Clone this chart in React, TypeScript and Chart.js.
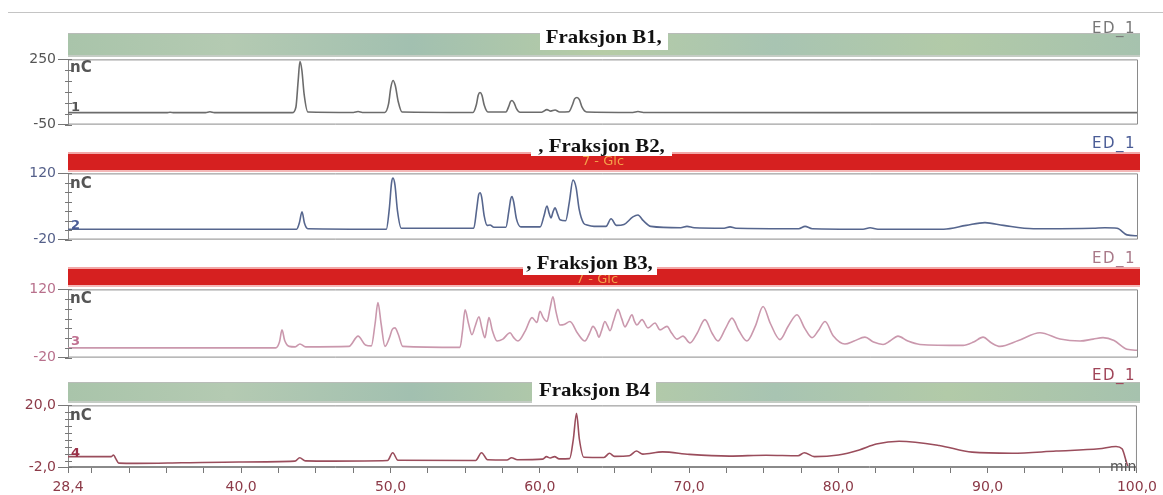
import React, { useEffect, useRef } from 'react';
import { Chart, registerables } from 'chart.js';
Chart.register(...registerables);

// ---------- data ----------
const xMin = 28.4;
const xMax = 100;
const xMajorTicks = [28.4, 40, 50, 60, 70, 80, 90, 100];
const xMajorLabels = ['28,4', '40,0', '50,0', '60,0', '70,0', '80,0', '90,0', '100,0'];
const xMinorTicks = [30, 32.5, 35, 37.5, 42.5, 45, 47.5, 52.5, 55, 57.5, 62.5, 65, 67.5, 72.5, 75, 77.5, 82.5, 85, 87.5, 92.5, 95, 97.5];

const titles = ['Fraksjon B1,', ', Fraksjon B2,', ', Fraksjon B3,', 'Fraksjon B4'];
const channelLabel = 'ED_1';
const unitLabel = 'nC';
const traceIds = ['1', '2', '3', '4'];
const glcLabel = '7 - Glc';
const timeUnit = 'min';

const b1YTicks = [-50, 250];
const b1YLabels = ['-50', '250'];
const b1YMinor = [-50, 0, 50, 100, 150, 200, 250];
const b2YTicks = [-20, 120];
const b2YLabels = ['-20', '120'];
const b2YMinor = [-20, 0, 20, 40, 60, 80, 100, 120];
const b3YTicks = [-20, 120];
const b3YLabels = ['-20', '120'];
const b3YMinor = [-20, 0, 20, 40, 60, 80, 100, 120];
const b4YTicks = [-2, 20];
const b4YLabels = ['-2,0', '20,0'];
const b4YMinor = [-2, 0, 2.5, 5, 7.5, 10, 12.5, 15, 17.5, 20];

const b1Trace: [number, number][] = [
  [28.4, 5], [35.0, 5], [35.23, 7], [35.5, 5], [37.6, 5], [37.9, 9], [38.2, 5],
  [43.4, 5], [43.65, 30], [43.8, 150], [43.92, 240], [44.05, 200], [44.2, 90], [44.45, 8],
  [47.5, 6], [47.81, 10], [48.1, 6],
  [49.6, 6], [49.85, 45], [50.0, 120], [50.15, 153], [50.3, 130], [50.5, 55], [50.75, 8],
  [55.5, 6], [55.72, 40], [55.85, 85], [55.97, 98], [56.1, 85], [56.25, 40], [56.5, 8],
  [57.7, 8], [57.9, 35], [58.0, 55], [58.11, 61], [58.25, 50], [58.4, 25], [58.65, 7],
  [60.1, 7], [60.45, 19], [60.7, 12], [60.99, 17], [61.3, 8], [61.9, 9],
  [62.15, 40], [62.3, 68], [62.46, 75], [62.62, 65], [62.8, 30], [63.1, 8],
  [66.2, 6], [66.54, 10], [66.9, 6], [80, 5], [100, 5],
];

const b2Trace: [number, number][] = [
  [28.4, 2], [43.7, 2], [43.88, 15], [44.06, 39], [44.22, 15], [44.45, 3],
  [49.7, 2], [49.9, 45], [50.05, 100], [50.15, 110], [50.28, 95], [50.45, 40], [50.7, 4],
  [55.55, 4], [55.75, 45], [55.88, 75], [55.97, 79], [56.08, 70], [56.25, 30], [56.45, 10], [56.64, 11], [56.9, 6],
  [57.7, 6], [57.9, 40], [58.02, 65], [58.11, 71], [58.22, 60], [58.4, 25], [58.7, 7],
  [60.0, 7], [60.25, 30], [60.45, 51], [60.6, 35], [60.72, 26], [60.85, 38], [60.99, 47], [61.15, 35], [61.32, 22],
  [61.7, 20], [61.95, 60], [62.19, 106], [62.4, 90], [62.6, 45], [62.9, 15], [63.13, 11], [63.6, 8],
  [64.4, 8], [64.74, 24], [65.1, 10], [65.6, 12], [66.2, 28], [66.54, 32], [66.9, 20], [67.4, 8],
  [69.4, 5], [69.82, 8], [70.3, 5], [72.3, 4], [72.7, 7], [73.1, 4], [77.3, 3], [77.72, 8], [78.2, 3],
  [81.6, 2], [82.07, 5], [82.6, 2], [87.0, 2], [88.5, 10], [89.76, 16], [91.0, 10], [93.0, 3],
  [97.0, 4], [97.79, 5], [98.6, 4], [99.26, -10], [100, -12],
];

const b3Trace: [number, number][] = [
  [28.4, 0], [42.3, 0], [42.55, 12], [42.72, 37], [42.9, 15], [43.2, 3], [43.6, 2], [43.92, 8], [44.3, 2],
  [47.2, 3], [47.81, 24], [48.3, 6], [48.7, 4], [48.95, 50], [49.14, 93], [49.35, 50], [49.61, 3],
  [49.9, 20], [50.1, 38], [50.28, 41], [50.5, 28], [50.8, 3], [54.63, 1],
  [54.8, 35], [54.97, 78], [55.2, 50], [55.43, 27], [55.65, 45], [55.9, 64], [56.1, 40], [56.3, 21],
  [56.45, 45], [56.57, 62], [56.8, 35], [57.11, 14], [57.5, 18], [57.98, 31], [58.2, 22], [58.51, 14],
  [59.0, 35], [59.45, 62], [59.78, 52], [59.98, 75], [60.2, 62], [60.45, 54], [60.65, 80], [60.85, 105],
  [61.05, 75], [61.32, 47], [61.6, 48], [61.99, 54], [62.5, 30], [62.99, 14], [63.3, 30], [63.53, 44],
  [63.75, 35], [63.93, 22], [64.1, 35], [64.33, 54], [64.5, 45], [64.67, 35], [64.9, 55], [65.2, 79],
  [65.45, 60], [65.67, 43], [65.9, 55], [66.14, 68], [66.3, 55], [66.47, 47], [66.81, 58], [67.21, 41],
  [67.68, 51], [68.01, 37], [68.48, 44], [68.8, 30], [69.15, 18], [69.55, 24], [70.02, 10],
  [70.5, 30], [71.02, 58], [71.5, 30], [71.89, 14], [72.4, 40], [72.83, 61], [73.3, 35], [73.83, 14],
  [74.4, 45], [74.91, 85], [75.4, 50], [76.04, 17], [76.6, 45], [77.18, 68], [77.7, 40], [78.19, 21],
  [78.6, 35], [79.06, 54], [79.6, 25], [80.39, 8], [81.0, 14], [81.73, 22], [82.3, 12], [82.94, 7],
  [83.4, 14], [83.94, 24], [84.6, 14], [85.41, 7], [88.29, 5], [89.0, 12], [89.63, 22], [90.2, 10],
  [90.77, 3], [92.0, 15], [93.44, 31], [94.78, 18], [96.12, 14], [97.0, 18], [97.66, 21], [98.4, 15],
  [99.26, -3], [100, -5],
];

const b4Trace: [number, number][] = [
  [28.4, 1.7], [31.3, 1.7], [31.45, 2.3], [31.6, 1.0], [31.8, -0.6], [33, -0.7], [36, -0.5], [39.84, -0.2],
  [43.6, 0.1], [43.92, 1.3], [44.3, 0.2], [46.13, 0.1], [49.8, 0.3], [50.15, 3.1], [50.5, 0.4],
  [55.7, 0.3], [56.1, 3.1], [56.5, 0.6], [57.8, 0.5], [58.11, 1.3], [58.5, 0.6],
  [60.2, 0.8], [60.45, 1.7], [60.7, 1.2], [60.99, 1.7], [61.3, 0.9], [62.0, 1.0],
  [62.25, 8], [62.46, 17.2], [62.65, 8], [62.95, 1.5], [64.3, 1.4], [64.67, 2.9], [65.0, 1.8],
  [66.0, 2.0], [66.47, 3.7], [66.9, 2.6], [68.22, 3.4], [70.02, 2.5], [72.7, 1.9], [75.17, 2.2],
  [77.3, 2.0], [77.72, 3.1], [78.39, 1.7], [80, 2.3], [81.4, 4.1], [82.54, 6.2], [84.07, 7.2],
  [86.75, 5.7], [88.96, 3.3], [91.64, 2.9], [94.58, 3.7], [97.46, 4.5], [98.6, 5.3], [99.0, 4.5],
  [99.46, -2.0], [100, -2.0],
];

// ---------- layout / style ----------
const W = 1163;
const H = 495;
const PLOT_LEFT = 68;
const PLOT_RIGHT = 1138;
const AXIS_FONT = { family: '"DejaVu Sans", sans-serif', size: 14 };

type PanelCfg = {
  trace: [number, number][];
  line: string;
  labelColor: string;
  edColor: string;
  yTicks: number[];
  yLabels: string[];
  yMinor: number[];
  top: number;
  bottom: number;
  barTop: number;
  barBottom: number;
  green: boolean;
  title: string;
  titleBox: [number, number, number, number];
  edY: number;
  nCY: number;
  id: string;
  idY: number;
  idColor: string;
  last: boolean;
  glc?: [number, number];
};

const panels: PanelCfg[] = [
  {
    trace: b1Trace, line: '#6c6c6c', labelColor: '#555', edColor: '#777',
    yTicks: b1YTicks, yLabels: b1YLabels, yMinor: b1YMinor,
    top: 59, bottom: 125, barTop: 33, barBottom: 57, green: true,
    title: titles[0], titleBox: [540, 23, 128, 27], edY: 28, nCY: 67, id: traceIds[0], idY: 107, idColor: '#555', last: false,
  },
  {
    trace: b2Trace, line: '#56668e', labelColor: '#55608a', edColor: '#4a5c96',
    yTicks: b2YTicks, yLabels: b2YLabels, yMinor: b2YMinor,
    top: 173, bottom: 240, barTop: 152, barBottom: 172, green: false,
    title: titles[1], titleBox: [531, 136, 141, 20], edY: 143, nCY: 183, id: traceIds[1], idY: 225, idColor: '#4a5c96', last: false,
    glc: [603, 161],
  },
  {
    trace: b3Trace, line: '#ca98ad', labelColor: '#b8708c', edColor: '#a87888',
    yTicks: b3YTicks, yLabels: b3YLabels, yMinor: b3YMinor,
    top: 289, bottom: 358, barTop: 267, barBottom: 287, green: false,
    title: titles[2], titleBox: [523, 251, 134, 24], edY: 258, nCY: 298, id: traceIds[2], idY: 341, idColor: '#c07090', last: false,
    glc: [597, 279],
  },
  {
    trace: b4Trace, line: '#9a4d5c', labelColor: '#8c3a48', edColor: '#a04458',
    yTicks: b4YTicks, yLabels: b4YLabels, yMinor: b4YMinor,
    top: 405, bottom: 467, barTop: 382, barBottom: 403, green: true,
    title: titles[3], titleBox: [532, 376, 124, 28], edY: 375, nCY: 415, id: traceIds[3], idY: 453, idColor: '#9a3048', last: true,
  },
];

const framePlugin = {
  id: 'frame',
  afterDraw(chart: any, _args: any, opts: any) {
    const { ctx, chartArea: a } = chart;
    const ys = chart.scales.y;
    ctx.save();
    ctx.strokeStyle = opts.color;
    ctx.lineWidth = 1;
    ctx.beginPath();
    ctx.moveTo(a.left, a.top + 0.5);
    ctx.lineTo(a.right - 0.5, a.top + 0.5);
    ctx.lineTo(a.right - 0.5, a.bottom - 0.5);
    ctx.lineTo(a.left, a.bottom - 0.5);
    ctx.stroke();
    ctx.strokeStyle = opts.tickColor;
    for (const v of opts.minor as number[]) {
      const y = Math.round(ys.getPixelForValue(v)) + 0.5;
      ctx.beginPath();
      ctx.moveTo(a.left - 3, y);
      ctx.lineTo(a.left + 4, y);
      ctx.stroke();
    }
    ctx.restore();
  },
};

function PanelChart({ p }: { p: PanelCfg }) {
  const ref = useRef<HTMLCanvasElement>(null);
  const canvasTop = p.top - 10;
  const xAxisH = 30;
  const height = p.last ? p.bottom - canvasTop + xAxisH : p.bottom - p.top + 20;

  useEffect(() => {
    const xScale: any = {
      type: 'linear',
      min: xMin,
      max: xMax,
      display: p.last,
      grid: { drawOnChartArea: false, drawTicks: true, tickLength: 6, color: '#777' },
      border: { display: true, color: '#8a8a8a' },
      ticks: {
        autoSkip: false,
        maxRotation: 0,
        padding: 6,
        color: p.labelColor,
        font: AXIS_FONT,
        callback: (value: any) => {
          const i = xMajorTicks.findIndex((t) => Math.abs(t - Number(value)) < 1e-6);
          return i >= 0 ? xMajorLabels[i] : '';
        },
      },
    };
    if (p.last) {
      xScale.afterBuildTicks = (scale: any) => {
        scale.ticks = [...xMajorTicks, ...xMinorTicks].sort((a, b) => a - b).map((v) => ({ value: v }));
      };
      xScale.afterFit = (scale: any) => {
        scale.height = xAxisH;
      };
    }
    const chart = new Chart(ref.current as HTMLCanvasElement, {
      type: 'line',
      data: {
        datasets: [
          {
            data: p.trace.map(([x, y]) => ({ x, y })),
            borderColor: p.line,
            borderWidth: 1.6,
            pointRadius: 0,
            fill: false,
            cubicInterpolationMode: 'monotone',
          },
        ],
      },
      options: {
        animation: false,
        responsive: false,
        maintainAspectRatio: false,
        devicePixelRatio: 1,
        events: [],
        layout: { padding: { top: 10, left: 8, right: W - PLOT_RIGHT, bottom: p.last ? 0 : 10 } },
        plugins: {
          legend: { display: false },
          tooltip: { enabled: false },
          title: { display: false },
          frame: { color: '#8a8a8a', tickColor: '#777', minor: p.yMinor },
        } as any,
        scales: {
          x: xScale,
          y: {
            type: 'linear',
            min: p.yTicks[0],
            max: p.yTicks[1],
            afterBuildTicks: (scale: any) => {
              scale.ticks = p.yTicks.map((v) => ({ value: v }));
            },
            afterFit: (scale: any) => {
              scale.width = PLOT_LEFT - 8;
            },
            grid: { drawOnChartArea: false, drawTicks: true, tickLength: 10, color: '#777' },
            border: { display: true, color: '#8a8a8a' },
            ticks: {
              padding: 2,
              color: p.labelColor,
              font: AXIS_FONT,
              callback: (value: any) => {
                const i = p.yTicks.findIndex((t) => Math.abs(t - Number(value)) < 1e-6);
                return i >= 0 ? p.yLabels[i] : '';
              },
            },
          } as any,
        },
      },
      plugins: [framePlugin as any],
    });
    return () => chart.destroy();
  }, []);

  return (
    <canvas
      ref={ref}
      width={W}
      height={height}
      style={{ position: 'absolute', left: 0, top: canvasTop, width: W, height, display: 'block' }}
    />
  );
}

function Decor({ p }: { p: PanelCfg }) {
  const barBg = p.green
    ? 'linear-gradient(90deg, #a9c4aa 0%, #b4cab2 15%, #a2c0b0 32%, #b6cca6 50%, #a8c4b2 66%, #b2caa8 82%, #a6c2ae 100%)'
    : '#d62020';
  const [bx, by, bw, bh] = p.titleBox;
  return (
    <>
      <div
        style={{
          position: 'absolute',
          left: PLOT_LEFT,
          top: p.barTop,
          width: PLOT_RIGHT - PLOT_LEFT + 2,
          height: p.barBottom - p.barTop,
          background: barBg,
          boxSizing: 'border-box',
          borderTop: p.green ? '1px solid #b8bcb8' : '2px solid #f2a8a8',
          borderBottom: p.green ? '2px solid #c4ccc4' : '2px solid #f4b8b8',
        }}
      />
      {p.glc && (
        <div
          style={{
            position: 'absolute',
            left: p.glc[0] - 40,
            top: p.glc[1] - 8,
            width: 80,
            textAlign: 'center',
            font: '13px "DejaVu Sans", sans-serif',
            color: '#f4a04a',
            lineHeight: '16px',
          }}
        >
          {glcLabel}
        </div>
      )}
      <div
        style={{
          position: 'absolute',
          left: bx,
          top: by,
          width: bw,
          height: bh,
          background: '#fff',
          display: 'flex',
          alignItems: 'center',
          justifyContent: 'center',
        }}
      >
        <span
          style={{
            font: 'bold 19px "Liberation Serif", "Times New Roman", serif',
            color: '#111',
            whiteSpace: 'nowrap',
            display: 'inline-block',
            transform: 'scaleX(1.1)',
          }}
        >
          {p.title}
        </span>
      </div>
      <div
        style={{
          position: 'absolute',
          right: W - 1136,
          top: p.edY - 9,
          font: '15px "DejaVu Sans", sans-serif',
          letterSpacing: '1.5px',
          color: p.edColor,
          lineHeight: '18px',
          whiteSpace: 'nowrap',
        }}
      >
        {channelLabel}
      </div>
      <div
        style={{
          position: 'absolute',
          left: 70,
          top: p.nCY - 9,
          font: 'bold 15px "DejaVu Sans", sans-serif',
          color: '#555',
          lineHeight: '18px',
        }}
      >
        {unitLabel}
      </div>
      <div
        style={{
          position: 'absolute',
          left: 71,
          top: p.idY - 8,
          font: 'bold 13px "DejaVu Sans", sans-serif',
          color: p.idColor,
          lineHeight: '16px',
        }}
      >
        {p.id}
      </div>
    </>
  );
}

export default function App() {
  return (
    <div
      style={{
        position: 'fixed',
        left: 0,
        top: 0,
        width: W,
        height: H,
        overflow: 'hidden',
        background: '#fff',
      }}
    >
      <div style={{ position: 'absolute', left: 8, top: 12, width: W - 8, height: 1, background: '#c4c4c4' }} />
      {panels.map((p, i) => (
        <PanelChart key={'c' + i} p={p} />
      ))}
      {panels.map((p, i) => (
        <Decor key={'d' + i} p={p} />
      ))}
      <div
        style={{
          position: 'absolute',
          left: 1110,
          top: 458,
          font: '14px "DejaVu Sans", sans-serif',
          color: '#555',
          lineHeight: '16px',
        }}
      >
        {timeUnit}
      </div>
    </div>
  );
}
